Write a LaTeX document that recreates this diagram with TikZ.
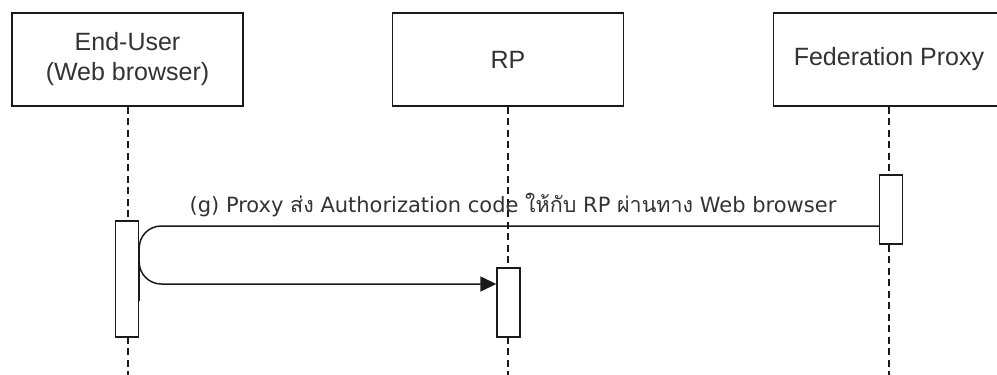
\documentclass[tikz,border=0pt]{standalone}
\usepackage{fontspec}
\setmainfont{Liberation Sans}
\newfontfamily\labelfont{DejaVu Sans}
\newfontfamily\thaifont[Script=Thai]{Loma}
\usetikzlibrary{positioning, arrows.meta, calc}
\definecolor{seqline}{HTML}{1A1A1A}
\definecolor{seqtext}{HTML}{333333}

\begin{document}
\begin{tikzpicture}[x=1pt, y=-1pt,
    actor/.style={draw=seqline, line width=1.6pt, fill=white, minimum width=231pt,
      minimum height=93pt, inner sep=0pt, align=center, text=seqtext,
      font=\fontsize{25}{30}\selectfont},
    lifeline/.style={draw=seqline, line width=2pt, dash pattern=on 7pt off 4.5pt},
    activation/.style={draw=seqline, line width=1.4pt, fill=white, minimum width=23pt,
      inner sep=0pt},
    msg/.style={draw=seqline, line width=1.5pt},
    msglabel/.style={text=seqtext, font=\labelfont\fontsize{21}{24}\selectfont, inner sep=0pt}]
    \useasboundingbox (0,0) rectangle (997,375);

    % participants
    \node[actor] (user) at (127.5,59.5) {End-User\\(Web browser)};
    \node[actor] (rp) at (508,59.5) {RP};
    \node[actor] (proxy) at (889,59.5) {Federation Proxy};

    % lifelines
    \coordinate (userend) at (127.5,375);
    \coordinate (rpend) at (508,375);
    \coordinate (proxyend) at (889,375);
    \draw[lifeline] (user.south) -- (userend);
    \draw[lifeline] (rp.south) -- (rpend);
    \draw[lifeline] (proxy.south) -- (proxyend);

    % activations
    \node[activation, minimum height=116pt] (useract) at (127,279) {};
    \node[activation, minimum height=69pt] (rpact) at (508.5,302.5) {};
    \node[activation, minimum height=69pt] (proxyact) at (891,209.5) {};

    % message (g)
    \draw[msg, rounded corners=22pt, -{Triangle[length=16pt, width=15pt]}]
      ($(proxyact.west)+(0,16.5)$) -| ($(useract.east)+(0,0)$)
      |- ($(rpact.west)+(0,-18.5)$);
    \node[msglabel, anchor=base] (glabel) at (513,212)
      {(g) Proxy {\thaifont\fontsize{21.5}{24}\selectfont ส่ง} Authorization code {\thaifont\fontsize{21.5}{24}\selectfont ให้กับ} RP {\thaifont\fontsize{21.5}{24}\selectfont ผ่านทาง} Web browser};
\end{tikzpicture}
\end{document}
